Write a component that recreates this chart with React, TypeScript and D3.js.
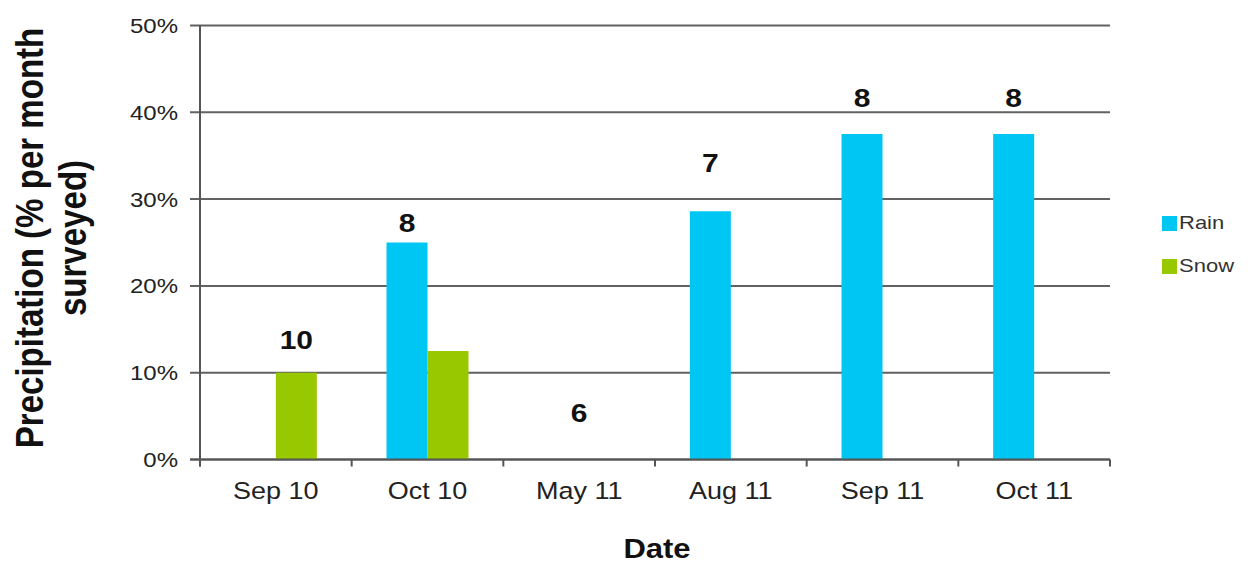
import React, { useEffect, useRef } from 'react';
import * as d3 from 'd3';

const categories = ['Sep 10', 'Oct 10', 'May 11', 'Aug 11', 'Sep 11', 'Oct 11'];
const seriesNames = ['Rain', 'Snow'];
const rain = [0, 25, 0, 28.6, 37.5, 37.5];
const snow = [10, 12.5, 0, 0, 0, 0];
// months surveyed, written above each group
const surveyed = [10, 8, 6, 7, 8, 8];
// where the written count sits, in % units
const noteLevel = [12.7, 26.2, 4.3, 33.1, 40.6, 40.6];
const yTicks = [0, 10, 20, 30, 40, 50];

const W = 1256;
const H = 568;
const SQ = 0.87; // the source text is a bit squashed vertically
const FONT = '"Liberation Sans", Arial, sans-serif';
const colors: Record<string, string> = { Rain: '#00c6f4', Snow: '#97c800' };

const App: React.FC = () => {
  const svgRef = useRef<SVGSVGElement | null>(null);

  useEffect(() => {
    if (!svgRef.current) return;
    const svg = d3.select(svgRef.current);
    svg.selectAll('*').remove();

    const x = d3.scaleBand<string>().domain(categories).range([200, 1110]);
    const xs = d3
      .scaleBand<string>()
      .domain(seriesNames)
      .range([0, x.bandwidth()])
      .paddingInner(0)
      .paddingOuter(0.85);
    const y = d3.scaleLinear().domain([0, 50]).range([459.5, 25.5]);

    const tr = (px: number, py: number, extra = '') =>
      `translate(${px},${py}) scale(1,${SQ})${extra}`;

    // grid lines + ticks on the left
    svg
      .append('g')
      .selectAll('line')
      .data(yTicks)
      .enter()
      .append('line')
      .attr('x1', 190)
      .attr('x2', 1110)
      .attr('y1', (d) => y(d))
      .attr('y2', (d) => y(d))
      .attr('stroke', '#626262')
      .attr('stroke-width', 2);

    // bars
    const rows = categories.map((c, i) => ({ c, Rain: rain[i], Snow: snow[i] }));
    svg
      .append('g')
      .selectAll('g')
      .data(rows)
      .enter()
      .append('g')
      .attr('transform', (d) => `translate(${x(d.c)},0)`)
      .selectAll('rect')
      .data((d) => seriesNames.map((k) => ({ k, v: (d as any)[k] as number })).filter((e) => e.v > 0))
      .enter()
      .append('rect')
      .attr('x', (d) => xs(d.k)!)
      .attr('width', xs.bandwidth())
      .attr('y', (d) => y(d.v))
      .attr('height', (d) => y(0) - y(d.v))
      .attr('fill', (d) => colors[d.k]);

    // axes lines
    svg
      .append('line')
      .attr('x1', 200)
      .attr('x2', 200)
      .attr('y1', y(50))
      .attr('y2', y(0) + 7)
      .attr('stroke', '#555')
      .attr('stroke-width', 2);
    svg
      .append('line')
      .attr('x1', 190)
      .attr('x2', 1110)
      .attr('y1', y(0))
      .attr('y2', y(0))
      .attr('stroke', '#555')
      .attr('stroke-width', 2);
    svg
      .append('g')
      .selectAll('line')
      .data(d3.range(categories.length + 1))
      .enter()
      .append('line')
      .attr('x1', (i) => 200 + i * x.step())
      .attr('x2', (i) => 200 + i * x.step())
      .attr('y1', y(0))
      .attr('y2', y(0) + 7)
      .attr('stroke', '#555')
      .attr('stroke-width', 2);

    // y tick labels
    svg
      .append('g')
      .selectAll('text')
      .data(yTicks)
      .enter()
      .append('text')
      .attr('transform', (d) => tr(178, y(d)))
      .attr('dy', '0.36em')
      .attr('text-anchor', 'end')
      .style('font-family', FONT)
      .style('font-size', '24px')
      .attr('fill', '#222')
      .text((d) => `${d}%`);

    // x tick labels
    svg
      .append('g')
      .selectAll('text')
      .data(categories)
      .enter()
      .append('text')
      .attr('transform', (d) => tr(x(d)! + x.bandwidth() / 2, 499))
      .attr('text-anchor', 'middle')
      .style('font-family', FONT)
      .style('font-size', '27px')
      .attr('fill', '#222')
      .text((d) => d);

    // surveyed counts above groups
    svg
      .append('g')
      .selectAll('text')
      .data(categories)
      .enter()
      .append('text')
      .attr('transform', (d, i) => {
        let cx = x(d)! + x.bandwidth() / 2;
        if (snow[i] > rain[i]) cx = x(d)! + xs('Snow')! + xs.bandwidth() / 2;
        else if (rain[i] > 0) cx = x(d)! + xs('Rain')! + xs.bandwidth() / 2;
        return tr(cx, y(noteLevel[i]));
      })
      .attr('text-anchor', 'middle')
      .style('font-family', FONT)
      .style('font-size', '30px')
      .style('font-weight', 'bold')
      .attr('fill', '#111')
      .text((_, i) => surveyed[i]);

    // axis titles
    svg
      .append('text')
      .attr('transform', tr(657, 558))
      .attr('text-anchor', 'middle')
      .style('font-family', FONT)
      .style('font-size', '31px')
      .style('font-weight', 'bold')
      .attr('fill', '#111')
      .text('Date');

    const yTitle = ['Precipitation (% per month', 'surveyed)'];
    svg
      .append('g')
      .selectAll('text')
      .data(yTitle)
      .enter()
      .append('text')
      .attr('transform', (_, i) => tr(43 + i * 43, 238, ' rotate(-90)'))
      .attr('text-anchor', 'middle')
      .style('font-family', FONT)
      .style('font-size', '38px')
      .style('font-weight', 'bold')
      .attr('fill', '#111')
      .text((d) => d);

    // legend
    const legend = svg
      .append('g')
      .selectAll('g')
      .data(seriesNames)
      .enter()
      .append('g')
      .attr('transform', (_, i) => `translate(1162,${216 + i * 43})`);
    legend
      .append('rect')
      .attr('width', 15)
      .attr('height', 15)
      .attr('fill', (d) => colors[d]);
    legend
      .append('text')
      .attr('transform', tr(17, 13))
      .style('font-family', FONT)
      .style('font-size', '22px')
      .attr('fill', '#333')
      .text((d) => d);
  }, []);

  return (
    <svg
      ref={svgRef}
      width={W}
      height={H}
      style={{ position: 'absolute', left: 0, top: 0, background: '#fff' }}
    />
  );
};

export default App;
